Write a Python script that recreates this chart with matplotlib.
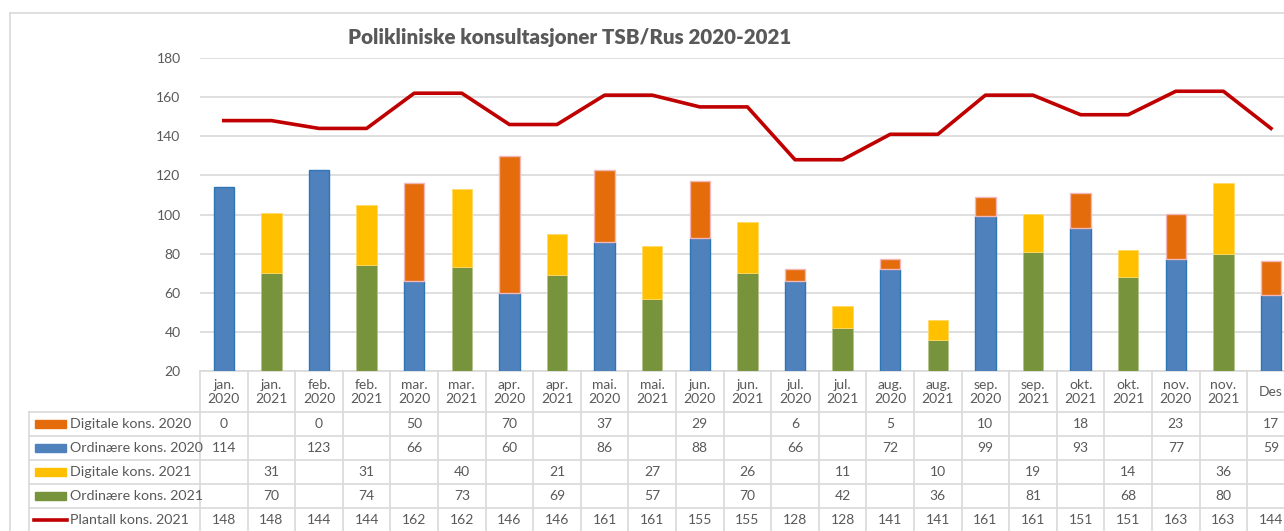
import numpy as np
import matplotlib.pyplot as plt
from matplotlib.transforms import blended_transform_factory
from matplotlib.lines import Line2D
from matplotlib.patches import Rectangle

plt.rcParams['font.family'] = ['Lato', 'DejaVu Sans']

months = ["jan.\n2020", "jan.\n2021", "feb.\n2020", "feb.\n2021", "mar.\n2020", "mar.\n2021",
          "apr.\n2020", "apr.\n2021", "mai.\n2020", "mai.\n2021", "jun.\n2020", "jun.\n2021",
          "jul.\n2020", "jul.\n2021", "aug.\n2020", "aug.\n2021", "sep.\n2020", "sep.\n2021",
          "okt.\n2021", "okt.\n2021", "nov.\n2020", "nov.\n2021", "Des"]
n = np.nan
dig_2020 = [0, n, 0, n, 50, n, 70, n, 37, n, 29, n, 6, n, 5, n, 10, n, 18, n, 23, n, 17]
ord_2020 = [114, n, 123, n, 66, n, 60, n, 86, n, 88, n, 66, n, 72, n, 99, n, 93, n, 77, n, 59]
dig_2021 = [n, 31, n, 31, n, 40, n, 21, n, 27, n, 26, n, 11, n, 10, n, 19, n, 14, n, 36, n]
ord_2021 = [n, 70, n, 74, n, 73, n, 69, n, 57, n, 70, n, 42, n, 36, n, 81, n, 68, n, 80, n]
plantall = [148, 148, 144, 144, 162, 162, 146, 146, 161, 161, 155, 155, 128, 128,
            141, 141, 161, 161, 151, 151, 163, 163, 144]

series = [
    ("Digitale kons. 2020", dig_2020, "#E46C0A", "bar"),
    ("Ordinære kons. 2020", ord_2020, "#4F81BD", "bar"),
    ("Digitale kons. 2021", dig_2021, "#FFC000", "bar"),
    ("Ordinære kons. 2021", ord_2021, "#77933C", "bar"),
    ("Plantall kons. 2021", plantall, "#C00000", "line"),
]

W, H = 1284, 531
fig = plt.figure(figsize=(W / 100, H / 100), dpi=100)
txt = "#595959"
grid = "#D9D9D9"

# axes in pixel positions
ax_l, ax_r, ax_b, ax_t = 200, 200 + 23 * 47.6, 371, 58
ax = fig.add_axes([ax_l / W, 1 - ax_b / H, (ax_r - ax_l) / W, (ax_b - ax_t) / H])

x = np.arange(len(months))
d20 = np.nan_to_num(dig_2020)
o20 = np.nan_to_num(ord_2020)
d21 = np.nan_to_num(dig_2021)
o21 = np.nan_to_num(ord_2021)
bw = 0.43
m20 = ~np.isnan(ord_2020)
m21 = ~np.isnan(ord_2021)
md20 = d20 > 0
ax.bar(x[m20], o20[m20], bw, color="#4F81BD", edgecolor="#2E75B6", linewidth=1, zorder=3)
ax.bar(x[md20], d20[md20], bw, bottom=o20[md20], color="#E46C0A", edgecolor="#F2B8B8", linewidth=1, zorder=3)
ax.bar(x[m21], o21[m21], bw, color="#77933C", edgecolor="#B5C48F", linewidth=0.6, zorder=3)
ax.bar(x[m21], d21[m21], bw, bottom=o21[m21], color="#FFC000", edgecolor="#FFD966", linewidth=0.6, zorder=3)
ax.plot(x, plantall, color="#C00000", lw=2.6, zorder=4, solid_joinstyle="round")

ax.set_xlim(-0.5, len(months) - 0.5)
ax.set_ylim(20, 180)
ax.set_yticks(np.arange(20, 181, 20))
ax.yaxis.grid(True, color=grid, lw=1.2)
ax.set_axisbelow(True)
for s in ["top", "right", "left"]:
    ax.spines[s].set_visible(False)
ax.spines["bottom"].set_color(grid)
ax.spines["bottom"].set_linewidth(1.2)
ax.tick_params(axis="y", length=0, labelsize=10, labelcolor=txt, pad=14)
ax.set_xticks([])

fig.text(570 / W, 1 - 37 / H, "Polikliniske konsultasjoner TSB/Rus 2020-2021",
         ha="center", va="center", fontsize=14.8, fontweight="heavy", color=txt)

# chart area border
fig.add_artist(Line2D([10 / W, 1], [1 - 13 / H] * 2, color=grid, lw=1.2))
fig.add_artist(Line2D([10 / W] * 2, [0, 1 - 13 / H], color=grid, lw=1.2))

# data table
tr = blended_transform_factory(ax.transData, fig.transFigure)
fy = lambda p: 1 - p / H
row_edges = [412, 436, 460, 484, 508]
row_centers = [424, 448, 472, 496, 520]
tbl_left = 29
for ye in row_edges:
    fig.add_artist(Line2D([tbl_left / W, 1], [fy(ye)] * 2, color=grid, lw=1.2))
fig.add_artist(Line2D([tbl_left / W] * 2, [0, fy(412)], color=grid, lw=1.2))
for b in np.arange(len(months) + 1) - 0.5:
    fig.add_artist(Line2D([b, b], [0, fy(371)], color=grid, lw=1.2, transform=tr))

for i, lab in enumerate(months):
    fig.text(i, fy(392), lab, transform=tr, ha="center", va="center",
             fontsize=10, color=txt, linespacing=1.25)

for (name, vals, col, kind), yc in zip(series, row_centers):
    if kind == "bar":
        fig.add_artist(Rectangle((35 / W, fy(yc + 4)), 31 / W, 8 / H, color=col))
    else:
        fig.add_artist(Line2D([34 / W, 67 / W], [fy(yc)] * 2, color=col, lw=2.6))
    fig.text(70 / W, fy(yc), name, ha="left", va="center", fontsize=10.3, color=txt)
    for i, v in enumerate(vals):
        if not np.isnan(v):
            fig.text(i, fy(yc), f"{int(v)}", transform=tr, ha="center", va="center",
                     fontsize=10, color=txt)

fig.savefig("out.png", dpi=100)
